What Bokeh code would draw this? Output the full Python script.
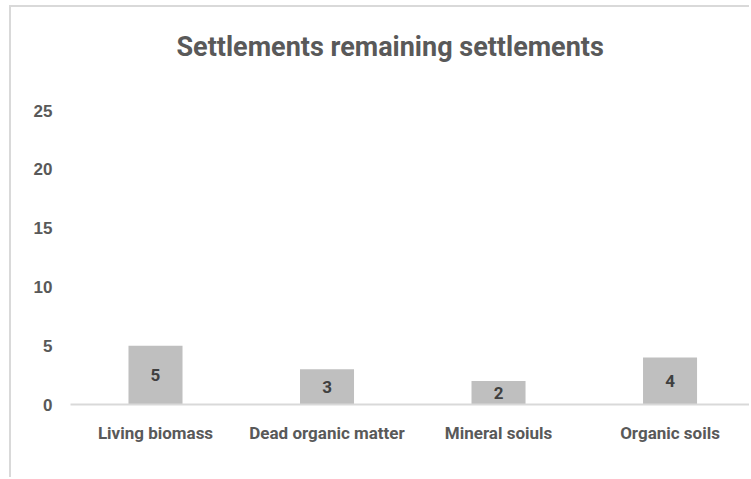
from bokeh.plotting import figure
from bokeh.models import ColumnDataSource, Range1d, FixedTicker, Title, LabelSet
from bokeh.core.properties import value
from bokeh.embed import file_html
from bokeh.resources import INLINE

title_text = "Settlements remaining settlements"
categories = ["Living biomass", "Dead organic matter", "Mineral soiuls", "Organic soils"]
values = [5, 3, 2, 4]
y_ticks = [0, 5, 10, 15, 20, 25]

xs = list(range(len(categories)))
src = ColumnDataSource(dict(
    x=xs,
    top=values,
    mid=[v / 2 for v in values],
    lbl=[str(v) for v in values],
))

p = figure(width=740, height=472, output_backend="svg", toolbar_location=None,
           x_range=Range1d(-0.4956, 3.475), y_range=Range1d(0, 27.3),
           min_border_left=59, min_border_right=0, min_border_top=0,
           min_border_bottom=75, background_fill_color="white",
           border_fill_color="white", outline_line_color=None)
p.styles = {"border-left": "2px solid #d9d9d9", "border-top": "2px solid #d9d9d9",
            "margin-left": "9px", "margin-top": "5px"}

t = Title(text=title_text, align="left", text_font="Roboto", text_font_style="bold",
          text_font_size="27px", text_color="#595959", standoff=42, offset=106)
p.add_layout(t, "above")

p.vbar(x="x", top="top", width=0.315, source=src, fill_color="#bfbfbf", line_color=None)

labels = LabelSet(x="x", y="mid", text="lbl", source=src, text_align="center",
                  text_baseline="middle", text_font=value("Roboto"),
                  text_font_style="bold", text_font_size="17px", text_color="#404040")
p.add_layout(labels)

p.xgrid.visible = False
p.ygrid.visible = False

p.xaxis.ticker = FixedTicker(ticks=xs)
p.xaxis.major_label_overrides = {i: c for i, c in zip(xs, categories)}
p.xaxis.axis_line_color = "#d9d9d9"
p.xaxis.axis_line_width = 2
p.xaxis.major_tick_line_color = None
p.xaxis.minor_tick_line_color = None
p.xaxis.major_label_standoff = 12
p.xaxis.major_label_text_font = "Roboto"
p.xaxis.major_label_text_font_style = "bold"
p.xaxis.major_label_text_font_size = "17px"
p.xaxis.major_label_text_color = "#595959"

p.yaxis.ticker = FixedTicker(ticks=y_ticks)
p.yaxis.axis_line_color = None
p.yaxis.major_tick_line_color = None
p.yaxis.minor_tick_line_color = None
p.yaxis.major_label_standoff = 12
p.yaxis.major_label_text_font = "Liberation Sans"
p.yaxis.major_label_text_font_style = "bold"
p.yaxis.major_label_text_font_size = "17px"
p.yaxis.major_label_text_color = "#595959"

open("out.html", "w").write(file_html(p, INLINE))
